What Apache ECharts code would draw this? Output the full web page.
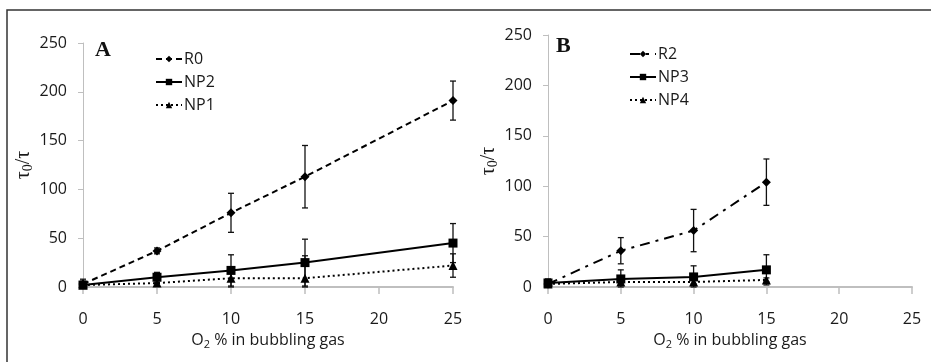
<!DOCTYPE html>
<html>
<head>
<meta charset="utf-8">
<script src="https://cdn.jsdelivr.net/npm/echarts@6/dist/echarts.min.js"></script>
<style>
  html, body { margin: 0; padding: 0; background: #fff; }
  #chart { width: 931px; height: 362px; }
</style>
</head>
<body>
<div id="chart"></div>
<script>
// O2 % in bubbling gas
const xA = [0, 5, 10, 15, 25];
const xB = [0, 5, 10, 15];
const xTicks = [0, 5, 10, 15, 20, 25];

// panel A
const r0 = [3, 37, 76, 113, 191];
const r0Err = [5, 3, 20, 32, 20];
const np2 = [2, 10, 17, 25, 45];
const np2Err = [4, 5, 16, 24, 20];
const np1 = [2, 4, 9, 9, 22];
const np1Err = [3, 3, 9, 23, 12];

// panel B
const r2 = [3, 36, 56, 104];
const r2Err = [5, 13, 21, 23];
const np3 = [4, 8, 10, 17];
const np3Err = [3, 9, 11, 15];
const np4 = [3, 5, 5, 7];
const np4Err = [2, 2, 2, 2];

const font = 'Open Sans';
const ink = '#1a1a1a';
const axisGray = '#bfbfbf';

const chart = echarts.init(document.getElementById('chart'));

function pairs(xs, ys) { return xs.map((x, i) => [x, ys[i]]); }
// bars are cut at the x axis, as in the source figure
function errRows(xs, ys, es) { return xs.map((x, i) => [x, Math.max(0, ys[i] - es[i]), ys[i] + es[i]]); }

function lineSeries(name, xs, ys, idx, symbol, size, type) {
  return {
    name: name, type: 'line', xAxisIndex: idx, yAxisIndex: idx,
    data: pairs(xs, ys), symbol: symbol, symbolSize: size,
    lineStyle: { color: '#000', width: 2, type: type },
    itemStyle: { color: '#000' },
    z: 3, animation: false
  };
}

function errSeries(xs, ys, es, idx) {
  return {
    type: 'custom', xAxisIndex: idx, yAxisIndex: idx,
    data: errRows(xs, ys, es), z: 2, animation: false, silent: true,
    renderItem: function (params, api) {
      const lo = api.coord([api.value(0), api.value(1)]);
      const hi = api.coord([api.value(0), api.value(2)]);
      const c = 3;
      const st = { stroke: '#111', lineWidth: 1.3 };
      return {
        type: 'group',
        children: [
          { type: 'line', shape: { x1: lo[0], y1: lo[1], x2: hi[0], y2: hi[1] }, style: st },
          { type: 'line', shape: { x1: lo[0] - c, y1: lo[1], x2: lo[0] + c, y2: lo[1] }, style: st },
          { type: 'line', shape: { x1: hi[0] - c, y1: hi[1], x2: hi[0] + c, y2: hi[1] }, style: st }
        ]
      };
    }
  };
}

function xAxisCfg(idx) {
  return {
    type: 'value', gridIndex: idx, min: 0, max: 25, interval: 5,
    name: '{n|O}{s|2}{n| % in bubbling gas}',
    nameLocation: 'middle', nameGap: 44,
    nameTextStyle: {
      rich: {
        n: { fontFamily: font, fontSize: 16, color: ink },
        s: { fontFamily: font, fontSize: 11, color: ink, padding: [8, 0, 0, 0] }
      }
    },
    axisLine: { show: true, onZero: false, lineStyle: { color: axisGray, width: 2 } },
    axisTick: { show: true, length: 7, lineStyle: { color: axisGray, width: 1.5 } },
    axisLabel: { fontFamily: font, fontSize: 16, color: ink, margin: 24,
      formatter: v => xTicks.indexOf(v) >= 0 ? String(v) : '' },
    splitLine: { show: false }
  };
}

function yAxisCfg(idx) {
  return {
    type: 'value', gridIndex: idx, min: 0, max: 250, interval: 50,
    name: '{t|τ}{s|0}{t|/τ}',
    nameLocation: 'middle', nameGap: 46, nameRotate: 90,
    nameTextStyle: {
      rich: {
        t: { fontFamily: 'Liberation Serif', fontSize: 20, color: ink },
        s: { fontFamily: 'Liberation Serif', fontSize: 14, color: ink, padding: [9, 0, 0, 0] }
      }
    },
    axisLine: { show: true, lineStyle: { color: axisGray, width: 1 } },
    axisTick: { show: true, length: 5, lineStyle: { color: axisGray } },
    axisLabel: { fontFamily: font, fontSize: 16, color: ink, margin: 16 },
    splitLine: { show: false }
  };
}

function legendCfg(names, left, top) {
  return {
    data: names, orient: 'vertical', left: left, top: top,
    itemWidth: 26, itemHeight: 8, itemGap: 7,
    textStyle: { fontFamily: font, fontSize: 16, color: ink, padding: [0, 0, 0, -3] },
    selectedMode: false
  };
}

chart.setOption({
  animation: false,
  backgroundColor: '#fff',
  grid: [
    { left: 83, right: 478, top: 43, bottom: 75 },
    { left: 548, right: 19, top: 35, bottom: 75 }
  ],
  xAxis: [xAxisCfg(0), xAxisCfg(1)],
  yAxis: [yAxisCfg(0), yAxisCfg(1)],
  legend: [
    legendCfg(['R0', 'NP2', 'NP1'], 150, 46),
    legendCfg(['R2', 'NP3', 'NP4'], 624, 41)
  ],
  graphic: [
    { type: 'polyline', shape: { points: [[7, 370], [7, 10], [940, 10]] },
      style: { stroke: '#333', lineWidth: 1.5, fill: null } },
    { type: 'text', left: 95, top: 39,
      style: { text: 'A', font: 'bold 22px "Liberation Serif"', fill: '#111' } },
    { type: 'text', left: 556, top: 35,
      style: { text: 'B', font: 'bold 22px "Liberation Serif"', fill: '#111' } }
  ],
  series: [
    errSeries(xA, r0, r0Err, 0),
    errSeries(xA, np2, np2Err, 0),
    errSeries(xA, np1, np1Err, 0),
    lineSeries('R0', xA, r0, 0, 'diamond', 9, [6, 4]),
    lineSeries('NP2', xA, np2, 0, 'rect', 9, 'solid'),
    lineSeries('NP1', xA, np1, 0, 'triangle', 9, [2, 3]),
    errSeries(xB, r2, r2Err, 1),
    errSeries(xB, np3, np3Err, 1),
    errSeries(xB, np4, np4Err, 1),
    lineSeries('R2', xB, r2, 1, 'diamond', 9, [10, 6, 3, 6]),
    lineSeries('NP3', xB, np3, 1, 'rect', 9, 'solid'),
    lineSeries('NP4', xB, np4, 1, 'triangle', 9, [2, 3])
  ]
});
</script>
</body>
</html>
